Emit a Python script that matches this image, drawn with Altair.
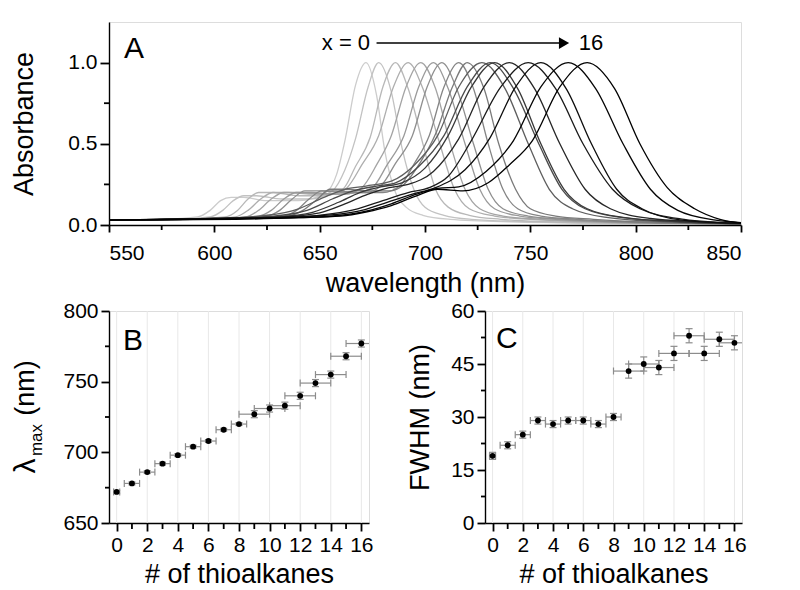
import altair as alt
import pandas as pd

FONT = "Liberation Sans"

# ---------------- Panel A: normalised absorbance spectra, x = 0 ... 16 ----------------
wl_x0 = [550, 575, 592, 598, 603, 608, 614, 625, 640, 653, 658, 662, 667, 672, 677, 681, 686, 691, 699, 712, 740, 800, 850]
ab_x0 = [0.03, 0.035, 0.05, 0.09, 0.15, 0.17, 0.17, 0.15, 0.15, 0.2, 0.31, 0.52, 0.86, 1.0, 0.8, 0.45, 0.2, 0.11, 0.06, 0.035, 0.02, 0.01, 0.005]
wl_x1 = [550, 580, 598, 604, 609, 614, 620, 632, 645, 656, 662, 667, 673, 678, 684, 689, 695, 700, 709, 722, 750, 800, 850]
ab_x1 = [0.03, 0.035, 0.05, 0.09, 0.15, 0.18, 0.18, 0.16, 0.16, 0.21, 0.34, 0.53, 0.85, 1.0, 0.82, 0.48, 0.21, 0.11, 0.06, 0.035, 0.02, 0.01, 0.005]
wl_x2 = [550, 585, 605, 611, 616, 621, 628, 640, 652, 661, 667, 674, 680, 686, 692, 699, 705, 711, 721, 736, 760, 800, 850]
ab_x2 = [0.03, 0.035, 0.05, 0.09, 0.16, 0.2, 0.2, 0.18, 0.18, 0.22, 0.36, 0.54, 0.85, 1.0, 0.84, 0.5, 0.22, 0.11, 0.06, 0.035, 0.02, 0.01, 0.005]
wl_x3 = [550, 590, 610, 616, 622, 628, 635, 646, 656, 663, 670, 678, 685, 692, 699, 707, 714, 721, 733, 750, 775, 810, 850]
ab_x3 = [0.03, 0.035, 0.05, 0.09, 0.16, 0.2, 0.2, 0.19, 0.19, 0.23, 0.37, 0.55, 0.85, 1.0, 0.84, 0.5, 0.22, 0.1, 0.055, 0.035, 0.02, 0.01, 0.005]
wl_x4 = [550, 595, 615, 621, 627, 633, 640, 651, 662, 670, 677, 684, 691, 698, 705, 712, 719, 726, 737, 754, 780, 815, 850]
ab_x4 = [0.03, 0.035, 0.05, 0.09, 0.16, 0.2, 0.2, 0.19, 0.19, 0.23, 0.37, 0.55, 0.85, 1.0, 0.84, 0.5, 0.22, 0.1, 0.055, 0.035, 0.02, 0.01, 0.005]
wl_x5 = [550, 600, 621, 627, 633, 639, 646, 657, 668, 675, 682, 690, 697, 704, 711, 719, 726, 733, 745, 762, 785, 820, 850]
ab_x5 = [0.03, 0.04, 0.055, 0.09, 0.16, 0.2, 0.2, 0.19, 0.2, 0.23, 0.37, 0.55, 0.85, 1.0, 0.84, 0.5, 0.22, 0.1, 0.055, 0.035, 0.02, 0.01, 0.005]
wl_x6 = [550, 600, 625, 631, 637, 643, 650, 661, 672, 679, 686, 694, 701, 708, 715, 723, 730, 737, 749, 766, 790, 825, 850]
ab_x6 = [0.03, 0.04, 0.055, 0.09, 0.16, 0.21, 0.21, 0.2, 0.2, 0.24, 0.38, 0.55, 0.85, 1.0, 0.84, 0.5, 0.22, 0.1, 0.055, 0.035, 0.02, 0.01, 0.005]
wl_x7 = [550, 605, 633, 639, 645, 651, 658, 669, 680, 688, 695, 702, 709, 716, 723, 730, 737, 744, 755, 772, 795, 825, 850]
ab_x7 = [0.03, 0.04, 0.055, 0.09, 0.16, 0.21, 0.21, 0.2, 0.2, 0.24, 0.38, 0.55, 0.85, 1.0, 0.84, 0.5, 0.22, 0.1, 0.055, 0.035, 0.02, 0.01, 0.005]
wl_x8 = [550, 605, 635, 642, 649, 655, 662, 673, 683, 690, 698, 705, 713, 720, 728, 735, 743, 750, 762, 780, 800, 830, 850]
ab_x8 = [0.03, 0.04, 0.055, 0.09, 0.16, 0.22, 0.22, 0.21, 0.21, 0.25, 0.39, 0.56, 0.85, 1.0, 0.84, 0.5, 0.22, 0.1, 0.055, 0.035, 0.02, 0.01, 0.005]
wl_x9 = [550, 600, 625, 640, 652, 662, 672, 684, 695, 706, 716, 727, 738, 749, 759, 770, 787, 813, 850]
ab_x9 = [0.03, 0.04, 0.06, 0.1, 0.17, 0.22, 0.24, 0.27, 0.37, 0.55, 0.85, 1.0, 0.84, 0.5, 0.22, 0.1, 0.045, 0.02, 0.008]
wl_x10 = [550, 600, 628, 644, 656, 666, 677, 686, 697, 709, 720, 731, 742, 754, 765, 776, 794, 821, 850]
ab_x10 = [0.03, 0.04, 0.055, 0.09, 0.16, 0.21, 0.24, 0.26, 0.36, 0.55, 0.85, 1.0, 0.84, 0.5, 0.22, 0.1, 0.045, 0.02, 0.008]
wl_x11 = [550, 600, 630, 647, 659, 669, 679, 689, 700, 711, 722, 733, 744, 755, 766, 777, 795, 821, 850]
ab_x11 = [0.03, 0.04, 0.05, 0.08, 0.14, 0.2, 0.235, 0.26, 0.35, 0.55, 0.85, 1.0, 0.84, 0.5, 0.22, 0.1, 0.045, 0.02, 0.008]
wl_x12 = [550, 600, 632, 650, 662, 673, 683, 692, 704, 716, 728, 740, 752, 764, 776, 788, 807, 830, 850]
ab_x12 = [0.03, 0.04, 0.05, 0.075, 0.13, 0.19, 0.23, 0.25, 0.33, 0.53, 0.85, 1.0, 0.84, 0.5, 0.22, 0.1, 0.04, 0.02, 0.008]
wl_x13 = [550, 610, 640, 656, 668, 680, 692, 702, 711, 722, 736, 749, 762, 775, 789, 802, 823, 850]
ab_x13 = [0.03, 0.04, 0.05, 0.07, 0.1, 0.15, 0.2, 0.23, 0.3, 0.52, 0.85, 1.0, 0.84, 0.5, 0.22, 0.1, 0.035, 0.01]
wl_x14 = [550, 610, 640, 658, 670, 682, 694, 705, 719, 731, 743, 755, 767, 779, 791, 803, 822, 850]
ab_x14 = [0.03, 0.04, 0.05, 0.065, 0.09, 0.14, 0.19, 0.23, 0.34, 0.54, 0.85, 1.0, 0.84, 0.5, 0.22, 0.1, 0.03, 0.01]
wl_x15 = [550, 610, 640, 660, 672, 684, 696, 706, 716, 729, 742, 755, 768, 781, 794, 807, 820, 838, 850]
ab_x15 = [0.03, 0.04, 0.045, 0.06, 0.085, 0.13, 0.19, 0.225, 0.235, 0.33, 0.52, 0.85, 1.0, 0.84, 0.5, 0.22, 0.09, 0.03, 0.015]
wl_x16 = [550, 610, 640, 660, 672, 684, 696, 706, 718, 730, 740, 751, 764, 777, 790, 802, 815, 828, 840, 850]
ab_x16 = [0.03, 0.035, 0.045, 0.055, 0.08, 0.12, 0.18, 0.22, 0.21, 0.26, 0.37, 0.52, 0.85, 1.0, 0.84, 0.5, 0.23, 0.1, 0.035, 0.012]

curve_wl = [wl_x0, wl_x1, wl_x2, wl_x3, wl_x4, wl_x5, wl_x6, wl_x7, wl_x8,
            wl_x9, wl_x10, wl_x11, wl_x12, wl_x13, wl_x14, wl_x15, wl_x16]
curve_ab = [ab_x0, ab_x1, ab_x2, ab_x3, ab_x4, ab_x5, ab_x6, ab_x7, ab_x8,
            ab_x9, ab_x10, ab_x11, ab_x12, ab_x13, ab_x14, ab_x15, ab_x16]
curve_gray = ["#cccccc", "#c2c2c2", "#b8b8b8", "#aeaeae", "#a4a4a4", "#9a9a9a", "#8f8f8f",
              "#858585", "#7a7a7a", "#5e5e5e", "#4a4a4a", "#383838", "#262626", "#1a1a1a",
              "#0d0d0d", "#050505", "#000000"]

# axis tick positions (major / minor)
wl_major = [550, 600, 650, 700, 750, 800, 850]
wl_minor = [575, 625, 675, 725, 775, 825]
abs_major = [0, 0.5, 1.0]
abs_minor = [0.25, 0.75]

# ---------------- Panels B and C ----------------
thio = [0, 1, 2, 3, 4, 5, 6, 7, 8, 9, 10, 11, 12, 13, 14, 15, 16]
thio_major = [0, 2, 4, 6, 8, 10, 12, 14, 16]
thio_minor = [1, 3, 5, 7, 9, 11, 13, 15]
lam_max = [672, 678, 686, 692, 698, 704, 708, 716, 720, 727, 731, 733, 740, 749, 755, 768, 777]
lam_err = [1, 1, 1, 1, 1, 1, 1, 1, 1, 2.5, 2.5, 2.5, 2.5, 2.5, 2.5, 2.5, 2.5]
thio_err_B = [0.2, 0.5, 0.5, 0.5, 0.5, 0.5, 0.5, 0.5, 0.5, 1, 1, 1, 1, 1, 1, 1, 1]
lam_major = [650, 700, 750, 800]
lam_minor = [675, 725, 775]
fwhm = [19, 22, 25, 29, 28, 29, 29, 28, 30, 43, 45, 44, 48, 53, 48, 52, 51]
fwhm_err = [1, 1, 1, 1, 1, 1, 1, 1, 1, 2, 2, 2, 2, 2, 2, 2, 2]
thio_err_C = [0.2, 0.5, 0.5, 0.5, 0.5, 0.5, 0.5, 0.5, 0.5, 1, 1, 1, 1, 1, 1, 1, 1]
fwhm_major = [0, 15, 30, 45, 60]
fwhm_minor = [7.5, 22.5, 37.5, 52.5]

# ---------------- build tables ----------------
rows = []
for k, (w, a) in enumerate(zip(curve_wl, curve_ab)):
    for wi, ai in zip(w, a):
        rows.append({"x": k, "wl": wi, "ab": ai})
spec = pd.DataFrame(rows)

AXIS_COMMON = dict(labelFont=FONT, titleFont=FONT, labelFontSize=21, titleFontSize=27,
                   titleFontWeight="normal", labelColor="black", titleColor="black",
                   domainColor="black", domainWidth=1.4, ticks=True, tickColor="#000000",
                   tickOpacity=1, tickWidth=1.8)
TICK = dict(color="#000000", thickness=1.8, opacity=1)


def vals(v):
    return pd.DataFrame({"v": v})


# ---- Panel A ----
WA, HA = 632, 203
axA_x = alt.Axis(values=wl_major, tickSize=7, labelPadding=10, title="wavelength (nm)",
                 titlePadding=7, grid=False, format="d", **AXIS_COMMON)
axA_y = alt.Axis(values=abs_major, format=".1f", tickSize=9, labelPadding=3,
                 title="Absorbance", titlePadding=29, grid=False, **AXIS_COMMON)
scA_x = alt.Scale(domain=[550, 850], nice=False, zero=False)
scA_y = alt.Scale(domain=[0, 1.25], nice=False, zero=False)
XA = lambda f: alt.X(f, scale=scA_x, axis=axA_x)
YA = lambda f: alt.Y(f, scale=scA_y, axis=axA_y)

lines = alt.Chart(spec).mark_line(interpolate="monotone", strokeWidth=1.3, clip=True).encode(
    x=XA("wl:Q"), y=YA("ab:Q"),
    color=alt.Color("x:O", scale=alt.Scale(domain=thio, range=curve_gray), legend=None),
)
tA2 = alt.Chart(vals(wl_minor)).mark_tick(orient="vertical", size=5, **TICK).encode(x=XA("v:Q"), y=alt.value(HA + 2.5))
tA4 = alt.Chart(vals(abs_minor)).mark_tick(orient="horizontal", size=5, **TICK).encode(y=YA("v:Q"), x=alt.value(-2.5))

ann_text = pd.DataFrame({"wl": [651, 773], "ab": [1.12, 1.12], "t": ["x = 0", "16"]})
ann_line = pd.DataFrame({"wl": [677], "wl2": [765], "ab": [1.12]})
ann_head = pd.DataFrame({"wl": [766], "ab": [1.12]})

a_text = alt.Chart(ann_text).mark_text(font=FONT, fontSize=22, align="left", baseline="middle",
                                       color="black").encode(x=XA("wl:Q"), y=YA("ab:Q"), text="t:N")
a_line = alt.Chart(ann_line).mark_rule(color="black", strokeWidth=1.5).encode(
    x=XA("wl:Q"), x2="wl2:Q", y=YA("ab:Q"))
a_head = alt.Chart(ann_head).mark_point(shape="triangle-right", filled=True, size=140,
                                        color="black", opacity=1).encode(x=XA("wl:Q"), y=YA("ab:Q"))
one = pd.DataFrame({"k": [0]})
a_letter = alt.Chart(one).mark_text(font=FONT, fontSize=30, align="left", baseline="alphabetic",
                                    color="black").encode(
    x=alt.value(15), y=alt.value(36), text=alt.value("A"))

panelA = alt.layer(lines, tA2, tA4, a_line, a_head, a_text, a_letter).properties(width=WA, height=HA)

# ---- Panels B, C ----
def err_table(vals_, yerr, xerr):
    return pd.DataFrame({
        "n": thio, "v": vals_,
        "xlo": [n - e for n, e in zip(thio, xerr)],
        "xhi": [n + e for n, e in zip(thio, xerr)],
        "ylo": [v - e for v, e in zip(vals_, yerr)],
        "yhi": [v + e for v, e in zip(vals_, yerr)],
    })

dfB = err_table(lam_max, lam_err, thio_err_B)
dfC = err_table(fwhm, fwhm_err, thio_err_C)

ERR_COLOR = "#8c8c8c"
HB = 212


def small_panel(df, ydomain, ymaj, ymin, ytitle, letter, letter_x, letter_y, ytitle_pad):
    axx = alt.Axis(values=thio_major, tickSize=8, grid=False,
                   labelPadding=3, title="# of thioalkanes", titlePadding=6, **AXIS_COMMON)
    axy = alt.Axis(values=ymaj, tickSize=8, grid=False, labelPadding=3, title=ytitle,
                   titlePadding=ytitle_pad, **AXIS_COMMON)
    sx = alt.Scale(domain=[-0.5, 16.5], nice=False, zero=False)
    sy = alt.Scale(domain=ydomain, nice=False, zero=False)
    X = lambda f: alt.X(f, scale=sx, axis=axx)
    Y = lambda f: alt.Y(f, scale=sy, axis=axy)
    grid = alt.Chart(vals(thio_major)).mark_rule(color="#e8e8e8", strokeWidth=1).encode(x=X("v:Q"))
    t2 = alt.Chart(vals(thio_minor)).mark_tick(orient="vertical", size=6, **TICK).encode(x=X("v:Q"), y=alt.value(HB + 3))
    t4 = alt.Chart(vals(ymin)).mark_tick(orient="horizontal", size=4, **TICK).encode(y=Y("v:Q"), x=alt.value(-2))
    base = alt.Chart(df)
    hbar = base.mark_rule(color=ERR_COLOR, strokeWidth=1.2, clip=True).encode(x=X("xlo:Q"), x2="xhi:Q", y=Y("v:Q"))
    vbar = base.mark_rule(color=ERR_COLOR, strokeWidth=1.2, clip=True).encode(x=X("n:Q"), y=Y("ylo:Q"), y2="yhi:Q")
    cap1 = base.mark_tick(orient="vertical", size=7, thickness=1.2, color=ERR_COLOR, opacity=1, clip=True).encode(x=X("xlo:Q"), y=Y("v:Q"))
    cap2 = base.mark_tick(orient="vertical", size=7, thickness=1.2, color=ERR_COLOR, opacity=1, clip=True).encode(x=X("xhi:Q"), y=Y("v:Q"))
    cap3 = base.mark_tick(orient="horizontal", size=7, thickness=1.2, color=ERR_COLOR, opacity=1, clip=True).encode(x=X("n:Q"), y=Y("ylo:Q"))
    cap4 = base.mark_tick(orient="horizontal", size=7, thickness=1.2, color=ERR_COLOR, opacity=1, clip=True).encode(x=X("n:Q"), y=Y("yhi:Q"))
    pts = base.mark_circle(size=34, color="black", opacity=1).encode(x=X("n:Q"), y=Y("v:Q"))
    lab = alt.Chart(one).mark_text(font=FONT, fontSize=30, align="left", baseline="alphabetic",
                                   color="black").encode(x=alt.value(letter_x), y=alt.value(letter_y),
                                                         text=alt.value(letter))
    return [grid, t2, t4, hbar, vbar, cap1, cap2, cap3, cap4, pts, lab]


layersB = small_panel(dfB, [650, 800], lam_major, lam_minor, "", "B", 14, 39, 0)
lam_sym = alt.Chart(one).mark_text(font=FONT, fontSize=30, angle=270, align="center", baseline="middle",
                                   color="black").encode(x=alt.value(-83), y=alt.value(155), text=alt.value("λ"))
lam_sub = alt.Chart(one).mark_text(font=FONT, fontSize=17, angle=270, align="center", baseline="middle",
                                   color="black").encode(x=alt.value(-72), y=alt.value(129), text=alt.value("max"))
lam_nm = alt.Chart(one).mark_text(font=FONT, fontSize=27, angle=270, align="center", baseline="middle",
                                  color="black").encode(x=alt.value(-83), y=alt.value(77), text=alt.value("(nm)"))
panelB = alt.layer(*layersB, lam_sym, lam_sub, lam_nm).properties(width=260, height=HB)

layersC = small_panel(dfC, [0, 60], fwhm_major, fwhm_minor, "FWHM (nm)", "C", 11, 37, 16)
panelC = alt.layer(*layersC).properties(width=257, height=HB)

chart = alt.vconcat(
    panelA,
    alt.hconcat(panelB, panelC, spacing=32),
    spacing=2,
).properties(padding={"left": 2, "top": 13, "right": 0, "bottom": 0}).configure_view(
    stroke="black", strokeWidth=1.4
).configure(background="white")

chart.save("out.html", embed_options={"renderer": "svg", "actions": False})
